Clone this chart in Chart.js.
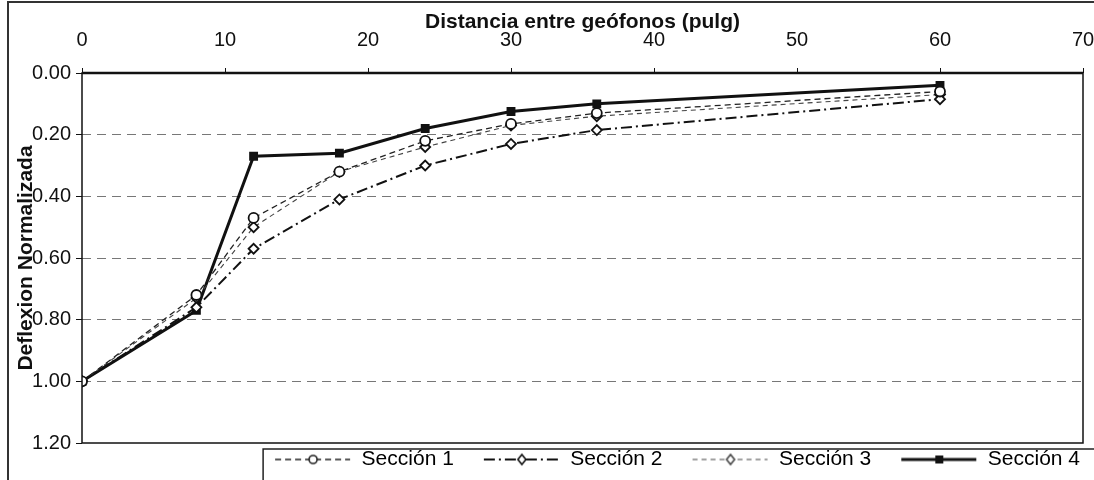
<!DOCTYPE html>
<html>
<head>
<meta charset="utf-8">
<script src="https://cdn.jsdelivr.net/npm/chart.js@4.4.1/dist/chart.umd.min.js"></script>
<style>
  html, body { margin: 0; padding: 0; background: #fff; }
  #wrap { width: 1094px; height: 480px; position: relative; }
</style>
</head>
<body>
<div id="wrap"><canvas id="deflexionChart"></canvas></div>
<script>
// Distancia entre geófonos (pulg)
const distancias = [0, 8, 12, 18, 24, 30, 36, 60];

// Deflexion normalizada por sección
const seccion1 = [1.00, 0.72, 0.47, 0.32, 0.22, 0.165, 0.13, 0.06];
const seccion2 = [1.00, 0.76, 0.57, 0.41, 0.30, 0.23, 0.185, 0.085];
const seccion3 = [1.00, 0.73, 0.50, 0.32, 0.24, 0.17, 0.14, 0.07];
const seccion4 = [1.00, 0.77, 0.27, 0.26, 0.18, 0.125, 0.10, 0.04];

const seriesNames = ['Sección 1', 'Sección 2', 'Sección 3', 'Sección 4'];
const xTicks = [0, 10, 20, 30, 40, 50, 60, 70];
const yTicks = [0, 0.2, 0.4, 0.6, 0.8, 1.0, 1.2];

const FONT = "'Liberation Sans', Arial, sans-serif";

const styles = [
    { dash: [6, 4], width: 1.3, color: '#222', marker: 'circle' },
    { dash: [11, 4, 2, 4], width: 2, color: '#111', marker: 'rectRot' },
    { dash: [5, 4], width: 1.1, color: '#444', marker: 'rectRot' },
    { dash: [], width: 3, color: '#111', marker: 'rect' }
];

const toPoints = vals => vals.map((v, i) => ({ x: distancias[i], y: v }));

// small legend samples: line + marker, blank space on the left as item gap
const SAMPLE_W = 100;
function legendSample(st) {
    const c = document.createElement('canvas');
    c.width = SAMPLE_W; c.height = 16;
    const g = c.getContext('2d');
    g.strokeStyle = st.color;
    g.lineWidth = st.width;
    g.setLineDash(st.dash);
    g.beginPath();
    g.moveTo(24, 8); g.lineTo(SAMPLE_W - 1, 8);
    g.stroke();
    g.setLineDash([]);
    g.lineWidth = 1.6;
    const cx = 62, cy = 8;
    g.beginPath();
    if (st.marker === 'circle') {
        g.arc(cx, cy, 4, 0, Math.PI * 2);
        g.fillStyle = '#fff'; g.fill(); g.stroke();
    } else if (st.marker === 'rectRot') {
        g.moveTo(cx, cy - 5); g.lineTo(cx + 4, cy); g.lineTo(cx, cy + 5); g.lineTo(cx - 4, cy); g.closePath();
        g.fillStyle = '#fff'; g.fill(); g.stroke();
    } else {
        g.fillStyle = '#111';
        g.fillRect(cx - 4, cy - 4, 8, 8);
    }
    return c;
}

const datasets = [seccion1, seccion2, seccion3, seccion4].map((vals, i) => ({
    label: seriesNames[i],
    data: toPoints(vals),
    borderColor: styles[i].color,
    borderWidth: styles[i].width,
    borderDash: styles[i].dash,
    pointStyle: styles[i].marker,
    pointRadius: 5,
    pointBorderWidth: 1.8,
    pointBackgroundColor: i === 3 ? '#111' : '#fff',
    pointBorderColor: '#111',
    tension: 0,
    fill: false
}));

const samples = styles.map(legendSample);

const framePlugin = {
    id: 'frame',
    afterDraw(chart) {
        const ctx = chart.ctx;
        const a = chart.chartArea;
        ctx.save();
        ctx.strokeStyle = '#111';
        ctx.setLineDash([]);
        ctx.lineWidth = 1.5;
        ctx.strokeRect(a.left, a.top, a.right - a.left, a.bottom - a.top);
        ctx.lineWidth = 2.5;
        ctx.beginPath();
        ctx.moveTo(a.left, a.top); ctx.lineTo(a.right, a.top);
        ctx.stroke();
        // outer figure border (left and top)
        ctx.lineWidth = 2;
        ctx.strokeStyle = '#333';
        ctx.beginPath();
        ctx.moveTo(8, chart.height); ctx.lineTo(8, 2); ctx.lineTo(chart.width, 2);
        ctx.stroke();
        // legend frame
        const lg = chart.legend;
        if (lg && lg.legendHitBoxes.length) {
            const x0 = lg.legendHitBoxes[0].left + 12;
            const y0 = lg.top + 6;
            ctx.lineWidth = 1.5;
            ctx.strokeStyle = '#222';
            ctx.beginPath();
            ctx.moveTo(x0, chart.height); ctx.lineTo(x0, y0); ctx.lineTo(chart.width, y0);
            ctx.stroke();
        }
        ctx.restore();
    }
};

new Chart(document.getElementById('deflexionChart').getContext('2d'), {
    type: 'line',
    data: { datasets: datasets },
    options: {
        responsive: true,
        maintainAspectRatio: false,
        animation: false,
        layout: { padding: { left: 12, right: 8, top: 4, bottom: 0 } },
        plugins: {
            legend: {
                position: 'bottom',
                align: 'end',
                labels: {
                    usePointStyle: true,
                    pointStyleWidth: SAMPLE_W,
                    boxHeight: 16,
                    padding: 6,
                    color: '#111',
                    font: { family: FONT, size: 21 },
                    generateLabels(chart) {
                        return chart.data.datasets.map((ds, i) => ({
                            text: ds.label,
                            pointStyle: samples[i],
                            fillStyle: '#fff',
                            strokeStyle: '#111',
                            lineWidth: 0,
                            hidden: false,
                            datasetIndex: i
                        }));
                    }
                }
            },
            tooltip: { enabled: false }
        },
        scales: {
            x: {
                type: 'linear',
                position: 'top',
                min: xTicks[0],
                max: xTicks[xTicks.length - 1],
                afterBuildTicks(scale) { scale.ticks = xTicks.map(v => ({ value: v })); },
                afterFit(scale) {
                    scale.height = 69;
                    scale.paddingRight = 11;
                },
                ticks: {
                    color: '#111',
                    padding: 16,
                    font: { family: FONT, size: 20 }
                },
                grid: {
                    drawOnChartArea: false,
                    drawTicks: true,
                    tickLength: 5,
                    tickColor: '#111'
                },
                border: { display: false },
                title: {
                    display: true,
                    text: 'Distancia entre geófonos (pulg)',
                    color: '#111',
                    padding: { top: 6, bottom: 0 },
                    font: { family: FONT, size: 21, weight: 'bold' }
                }
            },
            y: {
                type: 'linear',
                reverse: true,
                min: yTicks[0],
                max: yTicks[yTicks.length - 1],
                afterBuildTicks(scale) { scale.ticks = yTicks.map(v => ({ value: v })); },
                afterFit(scale) { scale.width = 70; },
                ticks: {
                    color: '#111',
                    padding: 5,
                    font: { family: FONT, size: 20 },
                    callback: v => Number(v).toFixed(2)
                },
                grid: {
                    color: ctx => (ctx.tick && (ctx.tick.value === 0 || ctx.tick.value === 1.2)) ? 'rgba(0,0,0,0)' : '#777',
                    lineWidth: 1,
                    tickLength: 6,
                    tickColor: '#111',
                    tickBorderDash: []
                },
                border: { display: false, dash: [9, 6] },
                title: {
                    display: true,
                    text: 'Deflexion Normalizada',
                    color: '#111',
                    padding: { top: 1.5, bottom: 0 },
                    font: { family: FONT, size: 21, weight: 'bold' }
                }
            }
        }
    },
    plugins: [framePlugin]
});
</script>
</body>
</html>
